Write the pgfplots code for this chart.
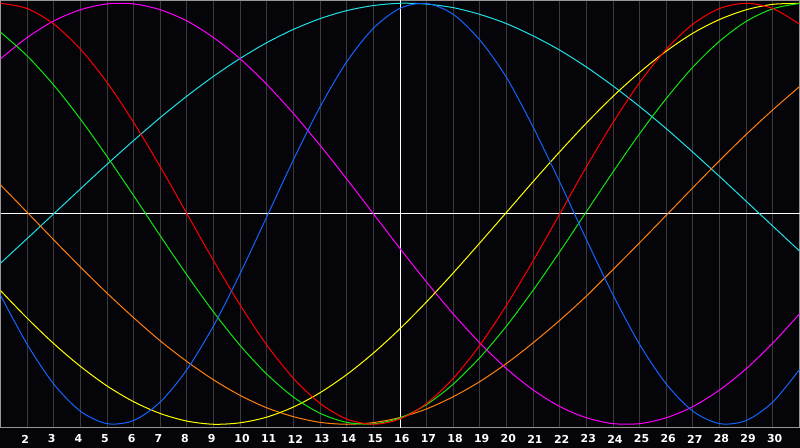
\documentclass[border=0pt]{standalone}
\usepackage{pgfplots}
\pgfplotsset{compat=1.18}
\usepackage{pgfplotstable}
\usepackage{fontspec}
\setmainfont{DejaVu Sans}

\definecolor{bg}{RGB}{5,4,8}
\definecolor{gridgray}{RGB}{58,58,60}
\definecolor{framegray}{RGB}{150,150,150}
\definecolor{cblue}{RGB}{20,100,255}
\definecolor{cred}{RGB}{255,0,0}
\definecolor{cgreen}{RGB}{16,230,16}
\definecolor{cmagenta}{RGB}{255,0,255}
\definecolor{cyellow}{RGB}{255,255,0}
\definecolor{ccyan}{RGB}{30,225,230}
\definecolor{corange}{RGB}{255,128,16}

% day, then one column per cycle (-1..1)
\pgfplotstableread{
d  blue   red    green  magenta yellow cyan   orange
1  -0.387  1.000  0.863  0.736 -0.365 -0.235  0.137
2  -0.620  0.975  0.750  0.837 -0.496 -0.118  0.007
3  -0.809  0.901  0.611  0.916 -0.617  0.000 -0.124
4  -0.938  0.782  0.450  0.969 -0.725  0.118 -0.253
5  -0.997  0.624  0.272  0.997 -0.818  0.235 -0.377
6  -0.982  0.434  0.086  0.997 -0.893  0.348 -0.494
7  -0.894  0.223 -0.105  0.969 -0.949  0.457 -0.604
8  -0.740  0.000 -0.291  0.916 -0.985  0.559 -0.702
9  -0.532 -0.223 -0.467  0.837 -1.000  0.653 -0.789
10 -0.283 -0.434 -0.626  0.736 -0.993  0.738 -0.863
11 -0.014 -0.624 -0.762  0.614 -0.966  0.813 -0.922
12  0.257 -0.782 -0.871  0.476 -0.918  0.876 -0.964
13  0.508 -0.901 -0.948  0.325 -0.850  0.927 -0.991
14  0.722 -0.975 -0.991  0.165 -0.764  0.965 -1.000
15  0.881 -1.000 -0.998  0.000 -0.662  0.989 -0.992
16  0.976 -0.975 -0.970 -0.165 -0.546  1.000 -0.968
17  0.999 -0.901 -0.906 -0.325 -0.418  0.996 -0.927
18  0.947 -0.782 -0.809 -0.476 -0.281  0.979 -0.869
19  0.825 -0.624 -0.683 -0.614 -0.138  0.947 -0.797
20  0.647 -0.434 -0.533 -0.736  0.007  0.903 -0.711
21  0.411 -0.223 -0.363 -0.837  0.153  0.845 -0.613
22  0.150  0.000 -0.180 -0.916  0.295  0.777 -0.506
23 -0.123  0.223  0.010 -0.969  0.431  0.697 -0.391
24 -0.386  0.434  0.199 -0.997  0.558  0.607 -0.265
25 -0.621  0.624  0.381 -0.997  0.672  0.509 -0.137
26 -0.809  0.782  0.548 -0.969  0.773  0.404 -0.007
27 -0.938  0.901  0.697 -0.916  0.858  0.292  0.124
28 -0.997  0.975  0.820 -0.837  0.923  0.177  0.253
29 -0.982  1.000  0.914 -0.736  0.969  0.059  0.377
30 -0.894  0.975  0.974 -0.614  0.995 -0.059  0.494
31 -0.740  0.901  0.999 -0.476  0.999 -0.177  0.604
}\cycles

\begin{document}
\begin{tikzpicture}
\fill[bg] (0,0) rectangle (800bp,448bp);
\begin{axis}[
    at={(0.5bp,20.5bp)}, anchor=south west,
    width=799bp, height=427bp, scale only axis,
    xmin=1, xmax=31, ymin=-1.0154, ymax=1.0131,
    axis line style={draw=framegray, line width=1bp},
    xtick={2,3,4,5,6,7,8,9,10,11,12,13,14,15,17,18,19,20,21,22,23,24,25,26,27,28,29,30},
    ytick=\empty,
    major tick length=0pt,
    xmajorgrids,
    grid style={draw=gridgray, line width=1bp},
    extra x ticks={16}, extra x tick labels={16},
    extra x tick style={grid=major, grid style={draw=white, line width=1bp}},
    extra y ticks={0}, extra y tick labels={},
    extra y tick style={grid=major, grid style={draw=white, line width=1bp}},
    /pgf/number format/assume math mode=true,
    xticklabel style={font=\bfseries\fontsize{11}{12}\selectfont, text=white,
        anchor=west, inner sep=0pt, xshift=-6bp, yshift=-11.5bp},
    every axis plot/.append style={line width=1bp, smooth, no markers},
]
    \addplot[ccyan]    table[x=d, y=cyan]    {\cycles};
    \addplot[corange]  table[x=d, y=orange]  {\cycles};
    \addplot[cmagenta] table[x=d, y=magenta] {\cycles};
    \addplot[cyellow]  table[x=d, y=yellow]  {\cycles};
    \addplot[cgreen]   table[x=d, y=green]   {\cycles};
    \addplot[cred]     table[x=d, y=red]     {\cycles};
    \addplot[cblue]    table[x=d, y=blue]    {\cycles};
\end{axis}
\pgfresetboundingbox
\path[use as bounding box] (0,0) rectangle (800bp,448bp);
\end{tikzpicture}
\end{document}
